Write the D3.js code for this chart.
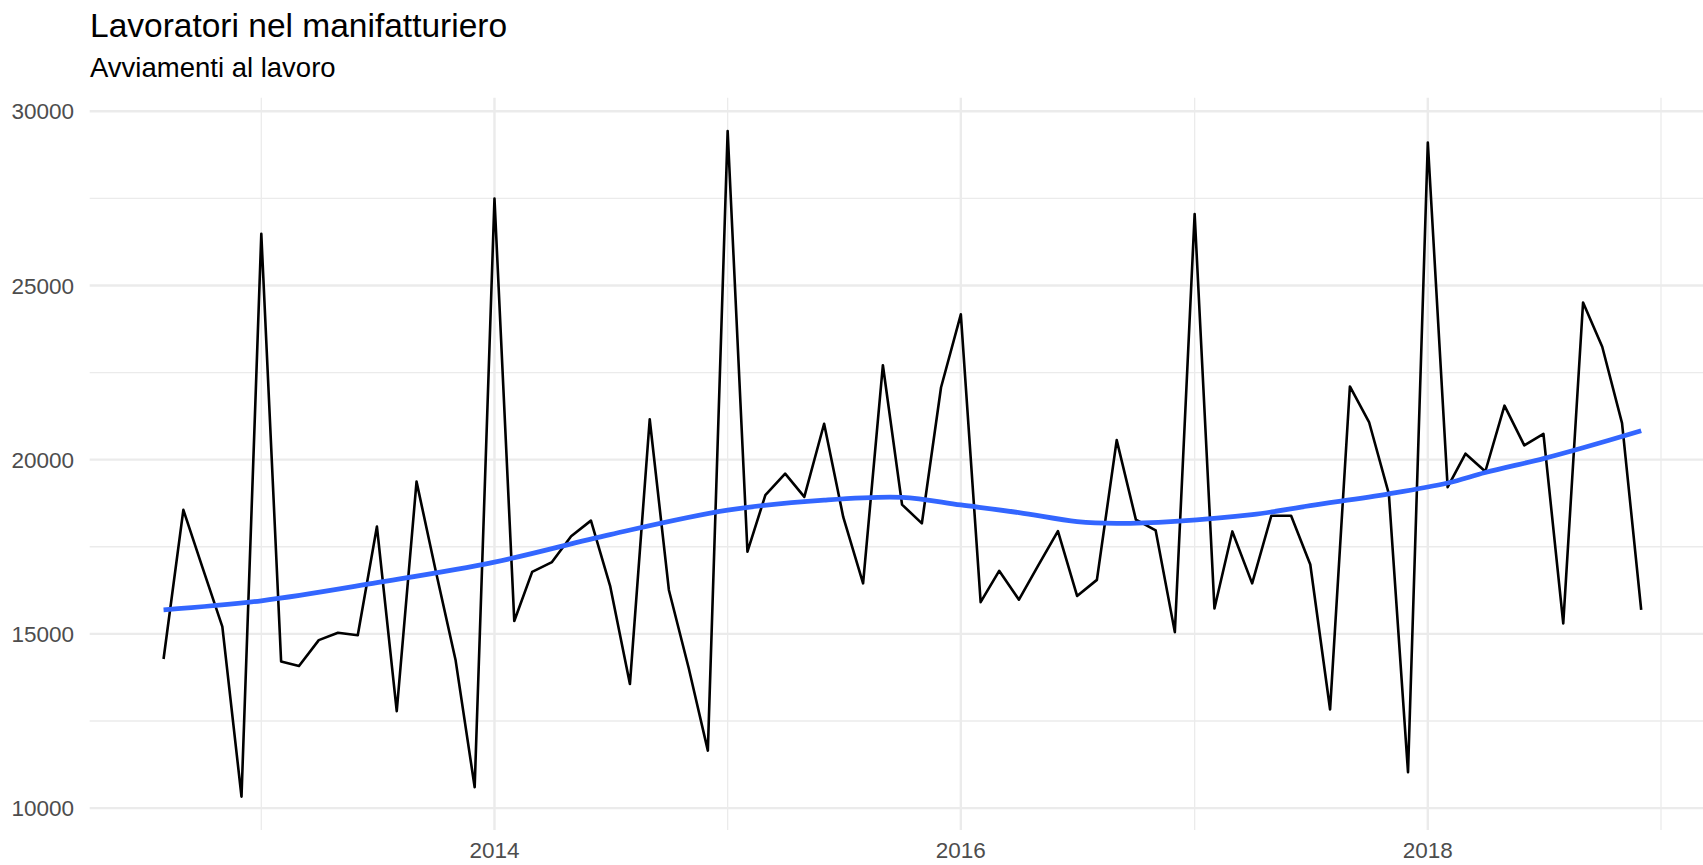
<!DOCTYPE html>
<html>
<head>
<meta charset="utf-8">
<script src="https://cdn.jsdelivr.net/npm/d3@7"></script>
<style>
  body { margin: 0; background: #fff; }
  svg text { font-family: "Liberation Sans", Arial, Helvetica, sans-serif; }
</style>
</head>
<body>
<script>
// monthly series, Aug 2012 .. Dec 2018
const firstMonth = "2012-08";
const lastMonth = "2018-12";
const values = [
  14280, 18560, 16900, 15210, 10330,
  26480, 14210, 14080, 14820, 15030, 14960, 18080, 12780, 19370, 16810, 14260, 10600,
  27490, 15370, 16780, 17060, 17800, 18250, 16380, 13560, 21160, 16260, 14020, 11650,
  29430, 17360, 18980, 19600, 18930, 21030, 18350, 16450, 22710, 18710, 18170, 22070,
  24170, 15910, 16810, 15980, 16960, 17950, 16090, 16550, 20560, 18280, 17970, 15050,
  27050, 15730, 17940, 16450, 18390, 18390, 16990, 12830, 22100, 21080, 19020, 11030,
  29100, 19210, 20170, 19660, 21550, 20410, 20740, 15300, 24510, 23240, 21050, 15690
];

// smoothed trend
const smoothMonths = ["2012-08", "2013-01", "2013-07", "2014-01", "2014-07", "2015-01", "2015-06",
  "2015-10", "2016-01", "2016-04", "2016-07", "2016-09", "2016-12", "2017-04", "2017-07",
  "2017-11", "2018-02", "2018-04", "2018-07", "2018-09", "2018-12"];
const smoothValues = [15690, 15950, 16470, 17060, 17850, 18550, 18840,
  18920, 18700, 18480, 18220, 18170, 18230, 18420, 18680,
  19020, 19330, 19630, 20030, 20340, 20830];

const yTicks = [10000, 15000, 20000, 25000, 30000];
const yMinor = [12500, 17500, 22500, 27500];
const xTicks = ["2014", "2016", "2018"];
const xMinor = ["2013", "2015", "2017", "2019"];

const width = 1703, height = 865;
const parseMonth = d3.timeParse("%Y-%m");
const parseYear = d3.timeParse("%Y");

const dates = d3.timeMonth.range(parseMonth(firstMonth), d3.timeMonth.offset(parseMonth(lastMonth), 1));
const data = dates.map(function(d, i) { return {date: d, value: values[i]}; });
const smooth = smoothMonths.map(function(m, i) { return {date: parseMonth(m), value: smoothValues[i]}; });

// scales anchored on the reference's grid positions
const xScale = d3.scaleTime()
  .domain([parseYear("2013"), parseYear("2019")])
  .range([261.3, 1661]);
const yScale = d3.scaleLinear()
  .domain([10000, 30000])
  .range([808.1, 111.2]);

// panel with ggplot-style 5% expansion
const xExt = d3.extent(data, function(d) { return xScale(d.date); });
const xPad = (xExt[1] - xExt[0]) * 0.05;
const panelLeft = xExt[0] - xPad, panelRight = xExt[1] + xPad;
const yExt = d3.extent(data, function(d) { return d.value; });
const yPad = (yExt[1] - yExt[0]) * 0.05;
const panelTop = yScale(yExt[1] + yPad), panelBottom = yScale(yExt[0] - yPad);

const svg = d3.select("body").append("svg")
  .attr("width", width)
  .attr("height", height);

// grid
const grid = svg.append("g");
grid.selectAll("line.ymin").data(yMinor).enter().append("line")
  .attr("x1", panelLeft).attr("x2", panelRight)
  .attr("y1", function(d) { return yScale(d); })
  .attr("y2", function(d) { return yScale(d); })
  .attr("stroke", "#ebebeb").attr("stroke-width", 1.3);
grid.selectAll("line.xmin").data(xMinor).enter().append("line")
  .attr("x1", function(d) { return xScale(parseYear(d)); })
  .attr("x2", function(d) { return xScale(parseYear(d)); })
  .attr("y1", panelTop).attr("y2", panelBottom)
  .attr("stroke", "#ebebeb").attr("stroke-width", 1.3);
grid.selectAll("line.ymaj").data(yTicks).enter().append("line")
  .attr("x1", panelLeft).attr("x2", panelRight)
  .attr("y1", function(d) { return yScale(d); })
  .attr("y2", function(d) { return yScale(d); })
  .attr("stroke", "#ebebeb").attr("stroke-width", 2.4);
grid.selectAll("line.xmaj").data(xTicks).enter().append("line")
  .attr("x1", function(d) { return xScale(parseYear(d)); })
  .attr("x2", function(d) { return xScale(parseYear(d)); })
  .attr("y1", panelTop).attr("y2", panelBottom)
  .attr("stroke", "#ebebeb").attr("stroke-width", 2.4);

// axis labels
svg.selectAll("text.ylab").data(yTicks).enter().append("text")
  .attr("x", 74)
  .attr("y", function(d) { return yScale(d); })
  .attr("dy", "0.36em")
  .attr("text-anchor", "end")
  .attr("fill", "#4d4d4d")
  .style("font-size", "22.5px")
  .text(function(d) { return d; });

svg.selectAll("text.xlab").data(xTicks).enter().append("text")
  .attr("x", function(d) { return xScale(parseYear(d)); })
  .attr("y", 858)
  .attr("text-anchor", "middle")
  .attr("fill", "#4d4d4d")
  .style("font-size", "22.5px")
  .text(function(d) { return d; });

// series
const line = d3.line()
  .x(function(d) { return xScale(d.date); })
  .y(function(d) { return yScale(d.value); });

svg.append("path")
  .datum(data)
  .attr("d", line)
  .attr("fill", "none")
  .attr("stroke", "#000")
  .attr("stroke-width", 2.6)
  .attr("stroke-linejoin", "round");

svg.append("path")
  .datum(smooth)
  .attr("d", line.curve(d3.curveCatmullRom))
  .attr("fill", "none")
  .attr("stroke", "#3366ff")
  .attr("stroke-width", 4.8);

// titles
svg.append("text")
  .attr("x", 90).attr("y", 37)
  .attr("fill", "#000")
  .style("font-size", "33.5px")
  .text("Lavoratori nel manifatturiero");

svg.append("text")
  .attr("x", 90).attr("y", 77)
  .attr("fill", "#000")
  .style("font-size", "27.5px")
  .text("Avviamenti al lavoro");
</script>
</body>
</html>
